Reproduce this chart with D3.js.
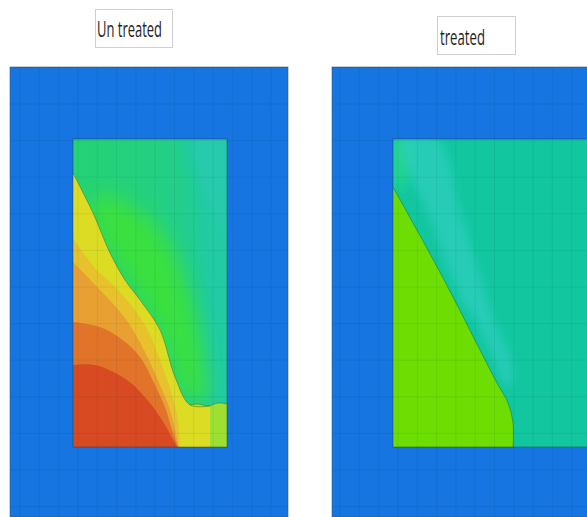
<!DOCTYPE html>
<html><head><meta charset="utf-8">
<script src="https://cdn.jsdelivr.net/npm/d3@7"></script>
<style>html,body{margin:0;padding:0;background:#fff;}svg{display:block}</style>
</head><body>
<svg id="chart" width="587" height="517"></svg>
<script>
// Panel titles
const titles = ["Un treated", "treated"];

// Contour band outlines in mm: x across the block, y down from the block's top edge.
// Untreated block (154 x 308)
const untreatedTealEdge   = [[108,0],[124,51],[130,111],[134,191],[138,262]];
const untreatedCornerEdge = [[120,0],[130,48],[154,101]];
const untreatedGreenRidge = [[17,76],[37,116],[67,161],[92,211],[105,250],[120,262],[132,262],[130,215],[115,150],[90,95],[55,65],[27,56]];
const untreatedStepFront  = [[117,266],[125,265],[135,267],[145,264],[154,265]];
const untreatedYellow     = [[0,34],[20,74],[37,114],[52,141],[67,161],[87,191],[102,238],[117,266],[137,267]];
const untreatedAmber      = [[0,99],[22,129],[47,153],[72,186],[87,221],[99,256],[105,281],[107,308]];
const untreatedOrange     = [[0,123],[27,151],[52,179],[72,213],[87,246],[97,271],[106,308]];
const untreatedDeepOrange = [[0,183],[27,188],[47,199],[67,218],[82,246],[93,271],[99,291],[105,308]];
const untreatedRed        = [[0,226],[22,226],[54,241],[77,264],[92,286],[104,308]];

// Treated block
const treatedLimeFront    = [[0,48],[20,84],[42,124],[60,158],[87,211],[104,244],[115,264],[120,284],[120,308]];
const treatedStripeLeft   = [[7,0],[37,79],[67,158],[84,184],[100,218],[112,246]];
const treatedStripeRight  = [[44,0],[69,79],[94,158],[102,184],[117,218],[119,246]];
const treatedEdgeGlow     = [[0,0],[15,0],[10,50],[0,48]];

// Block and surrounding-domain extents, mm
const blockDepth = 308;
const untreatedWidth = 154, treatedWidth = 240;

const svg = d3.select("#chart");
const defs = svg.append("defs");

// soft-edged fills
[["soft3",3],["soft5",5],["soft6",6],["soft10",10]].forEach(([id,s]) => {
  defs.append("filter").attr("id", id).attr("x","-50%").attr("y","-50%").attr("width","200%").attr("height","200%")
    .append("feGaussianBlur").attr("stdDeviation", s);
});
const grad = defs.append("linearGradient").attr("id","untreatedBase").attr("x1","0").attr("x2","1").attr("y1","0").attr("y2","0");
grad.append("stop").attr("offset","0%").attr("stop-color","#25d274");
grad.append("stop").attr("offset","55%").attr("stop-color","#24d082");
grad.append("stop").attr("offset","100%").attr("stop-color","#21caa0");

const blue = "#1675e0";

function makePanel(cfg) {
  const x = d3.scaleLinear().domain([0, 154]).range([cfg.left, cfg.left + 154]);
  const y = d3.scaleLinear().domain([0, blockDepth]).range([139, 447]);
  const g = svg.append("g");
  const outer = {x0: cfg.outer[0], x1: cfg.outer[1], y0: -72, y1: 378};

  g.append("rect").attr("x", x(outer.x0)).attr("y", y(outer.y0))
    .attr("width", x(outer.x1) - x(outer.x0)).attr("height", y(outer.y1) - y(outer.y0))
    .attr("fill", blue);

  const clipId = cfg.id + "Clip";
  defs.append("clipPath").attr("id", clipId).append("rect")
    .attr("x", x(0)).attr("y", y(0)).attr("width", x(cfg.width) - x(0)).attr("height", y(blockDepth) - y(0));

  const inner = g.append("g").attr("clip-path", `url(#${clipId})`);
  inner.append("rect").attr("x", x(0)).attr("y", y(0)).attr("width", x(cfg.width) - x(0)).attr("height", y(blockDepth) - y(0))
    .attr("fill", cfg.base);

  const curve = d3.line().x(d => x(d[0])).y(d => y(d[1])).curve(d3.curveCatmullRom.alpha(0.5));
  const closed = d3.line().x(d => x(d[0])).y(d => y(d[1])).curve(d3.curveCatmullRomClosed.alpha(0.5));
  const band = (edge, closing) => curve(edge) + closing.map(d => `L${x(d[0])},${y(d[1])}`).join("") + "Z";

  cfg.draw(inner, {band, curve, closed, x, y});

  // mesh lines
  const mesh = g.append("g").attr("stroke", "rgba(0,35,70,0.075)").attr("stroke-width", 1);
  d3.range(5 - 19.3 * 3, outer.x1, 19.3).filter(v => v > outer.x0).forEach(v => {
    mesh.append("line").attr("x1", x(v)).attr("x2", x(v)).attr("y1", y(outer.y0)).attr("y2", y(outer.y1));
  });
  d3.range(1.6 - 36.6 * 2, outer.y1, 36.6).filter(v => v > outer.y0).forEach(v => {
    mesh.append("line").attr("x1", x(outer.x0)).attr("x2", x(outer.x1)).attr("y1", y(v)).attr("y2", y(v));
  });

  g.append("rect").attr("x", x(0)).attr("y", y(0)).attr("width", x(cfg.width) - x(0)).attr("height", y(blockDepth) - y(0))
    .attr("fill", "none").attr("stroke", "rgba(20,60,70,0.45)").attr("stroke-width", 1);
  g.append("rect").attr("x", x(outer.x0)).attr("y", y(outer.y0))
    .attr("width", x(outer.x1) - x(outer.x0)).attr("height", y(outer.y1) - y(outer.y0))
    .attr("fill", "none").attr("stroke", "rgba(60,80,110,0.55)").attr("stroke-width", 1);
  return {x, y};
}

// Untreated panel
makePanel({
  id: "untreated", left: 73, width: untreatedWidth, outer: [-63, 215], base: "url(#untreatedBase)",
  draw(inner, {band, curve, closed}) {
    inner.append("path").attr("d", band(untreatedTealEdge, [[154,262],[154,0]])).attr("fill", "#21cba4").attr("filter", "url(#soft6)");
    inner.append("path").attr("d", band(untreatedCornerEdge, [[154,0]])).attr("fill", "#2ccab2").attr("opacity", 0.6).attr("filter", "url(#soft3)");
    inner.append("path").attr("d", closed(untreatedGreenRidge)).attr("fill", "#3ce238").attr("opacity", 0.9).attr("filter", "url(#soft10)");
    inner.append("path").attr("d", band(untreatedStepFront, [[154,308],[117,308]])).attr("fill", "#9ee032");
    inner.append("path").attr("d", band(untreatedYellow, [[137,308],[0,308]])).attr("fill", "#dcdc24");
    inner.append("path").attr("d", band(untreatedAmber, [[0,308]])).attr("fill", "#e8c22c");
    inner.append("path").attr("d", band(untreatedOrange, [[0,308]])).attr("fill", "#e9a032");
    inner.append("path").attr("d", band(untreatedDeepOrange, [[0,308]])).attr("fill", "#e2742a");
    inner.append("path").attr("d", band(untreatedRed, [[0,308]])).attr("fill", "#d84a22");
    [untreatedYellow, untreatedStepFront].forEach(e => inner.append("path").attr("d", curve(e))
      .attr("fill", "none").attr("stroke", "rgba(60,90,20,0.45)").attr("stroke-width", 0.9));
  }
});

// Treated panel
makePanel({
  id: "treated", left: 393, width: treatedWidth, outer: [-61, 300], base: "#12c6a0",
  draw(inner, {band, curve, closed}) {
    inner.append("path").attr("d", closed(treatedEdgeGlow)).attr("fill", "#22d48e").attr("filter", "url(#soft6)");
    const stripe = treatedStripeLeft.concat(treatedStripeRight.slice().reverse());
    inner.append("path").attr("d", closed(stripe)).attr("fill", "#34d0c6").attr("opacity", 0.6).attr("filter", "url(#soft5)");
    inner.append("path").attr("d", band(treatedLimeFront, [[0,308]])).attr("fill", "#6ede02");
    inner.append("path").attr("d", curve(treatedLimeFront)).attr("fill", "none")
      .attr("stroke", "rgba(20,110,60,0.5)").attr("stroke-width", 1);
  }
});

// Title boxes
const titleBoxes = [
  {x: 95, y: 9, w: 77, h: 38, tx: 97, ty: 37, len: 65, size: 21},
  {x: 437, y: 16, w: 78, h: 38, tx: 440, ty: 45, len: 45, size: 22}
];
titles.forEach((t, i) => {
  const b = titleBoxes[i];
  svg.append("rect").attr("x", b.x + 0.5).attr("y", b.y + 0.5).attr("width", b.w).attr("height", b.h)
    .attr("fill", "#fff").attr("stroke", "#cfcfcf");
  svg.append("text").attr("x", b.tx).attr("y", b.ty).text(t)
    .attr("font-family", "'Liberation Sans Narrow', 'Open Sans', sans-serif").attr("font-size", b.size)
    .attr("fill", "#1e1e1e").attr("textLength", b.len).attr("lengthAdjust", "spacingAndGlyphs");
});
</script>
</body></html>
